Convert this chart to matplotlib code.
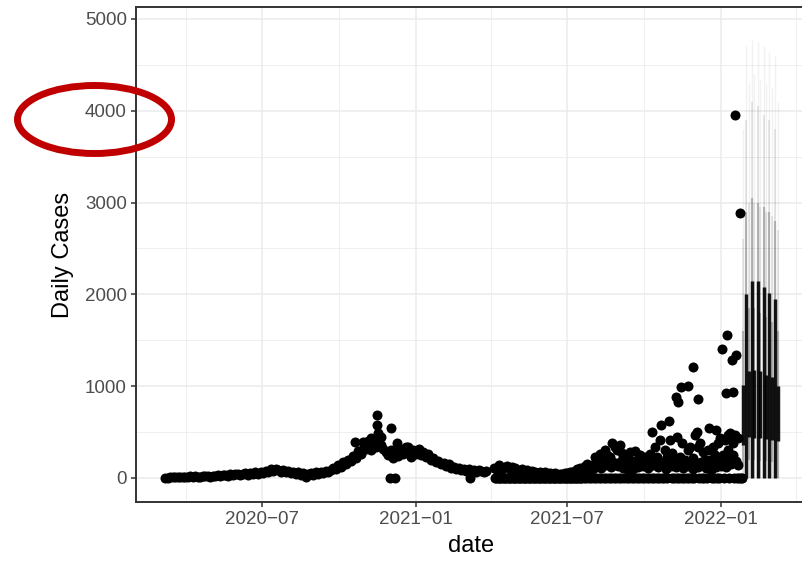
import numpy as np
import pandas as pd
import matplotlib
matplotlib.use("Agg")
import matplotlib.pyplot as plt
import matplotlib.dates as mdates
from matplotlib.patches import Ellipse

plt.rcParams['font.family'] = ['Liberation Sans', 'DejaVu Sans']

# daily cases, one value every third day from 2020-03-07
early_start = "2020-03-07"
early_vals = [0, 3, 5, 8, 10, 6, 12, 9,
              14, 10, 16, 12, 18, 13, 15, 20,
              17, 22, 15, 25, 20, 28, 18, 30,
              35, 25, 40, 30, 38, 45, 28, 42,
              50, 35, 55, 45, 60, 48, 65, 55,
              80, 70, 95, 75, 100, 85, 70, 90,
              65, 80, 55, 70, 45, 60, 35, 50,
              5, 40, 55, 35, 60, 45, 70, 55,
              80, 65, 90, 110, 95, 140, 120, 170,
              150, 200, 180, 240, 220, 290, 260, 390,
              320, 350, 300, 380, 340, 420, 360, 310,
              280, 250, 300, 220, 280, 240, 300, 260,
              340, 280, 230, 300, 260, 290, 250, 280,
              230, 260, 200, 220, 170, 190, 150, 160,
              130, 150, 110, 120, 100, 110, 85, 95,
              80, 100, 70, 85, 65, 90, 75, 60, 80]

# single days that stand out in 2020/21
extra_dates = ["2020-10-20", "2020-10-29", "2020-11-05", "2020-11-08", "2020-11-12",
               "2020-11-15", "2020-11-16", "2020-11-17", "2020-11-20", "2020-12-01",
               "2020-12-02", "2020-12-07", "2020-12-09", "2020-12-22", "2021-01-05",
               "2021-03-07"]
extra_vals = [390, 300, 400, 430, 370, 686, 577, 490, 450, 0,
              545, 0, 380, 340, 320, 0]

# reported days from April 2021 on, every third day
late_start = "2021-04-05"
late_end = "2022-01-26"
late_vals = [110, 90, 140, 100, 120, 130, 95, 115,
             105, 90, 80, 95, 70, 85, 60, 75,
             65, 55, 70, 50, 60, 45, 55, 40,
             50, 35, 45, 40, 55, 50, 70, 60,
             80, 95, 110, 90, 130, 150, 120, 140,
             230, 180, 260, 200, 300, 250, 230, 380,
             340, 300, 360, 270, 250, 220, 285, 180,
             295, 200, 250, 150, 230, 180, 260, 200,
             340, 230, 410, 160, 300, 230, 410, 270,
             160, 450, 230, 380, 200, 300, 340, 220,
             470, 340, 380, 285, 200, 300, 195, 340,
             250, 380, 440, 250, 410, 300, 490,
             380, 470, 440]

# second band of reports, every third day
late_low_start = "2021-07-20"
late_low_vals = [60, 90, 70, 120, 100, 150, 130, 110,
                 160, 140, 190, 120, 170, 150, 130, 180,
                 110, 150, 90, 130, 100, 140, 120, 170,
                 130, 180, 110, 160, 140, 190, 120, 175,
                 150, 100, 160, 130, 190, 120, 170, 140,
                 110, 160, 130, 180, 100, 150, 120, 170,
                 140, 110, 160, 90, 150, 120, 180, 130,
                 160, 120, 230, 150, 250, 190, 140]

# large reports late 2021 / early 2022
spike_dates = ["2021-10-11", "2021-10-21", "2021-10-31", "2021-11-08", "2021-11-11",
               "2021-11-14", "2021-11-22", "2021-11-29", "2021-12-03", "2021-12-05",
               "2021-12-18", "2021-12-26", "2022-01-02", "2022-01-07", "2022-01-08",
               "2022-01-10", "2022-01-14", "2022-01-15", "2022-01-18", "2022-01-19",
               "2022-01-24"]
spike_vals = [500, 580, 620, 880, 830, 990, 1005, 1210, 500, 865,
              545, 520, 1410, 925, 1555, 470, 1285, 940, 3955, 1340, 2890]

# forecast intervals (Mondays / Thursdays)
fc_dates = ["2022-01-27", "2022-01-31", "2022-02-03", "2022-02-07", "2022-02-10",
            "2022-02-14", "2022-02-17", "2022-02-21", "2022-02-24", "2022-02-28",
            "2022-03-03", "2022-03-07", "2022-03-10"]
fc_lo50 = [360, 0, 450, 0, 440, 0, 430, 0, 420, 0, 410, 0, 400]
fc_hi50 = [1010, 2000, 1170, 2150, 1180, 2140, 1160, 2080, 1120, 2010, 1100, 1950, 1000]
fc_lo80 = [150, 0, 200, 0, 200, 0, 190, 0, 180, 0, 170, 0, 0]
fc_hi80 = [1600, 2900, 1850, 3050, 1850, 3000, 1800, 2950, 1750, 2900, 1700, 2800, 1600]
fc_hi95 = [2600, 3900, 3000, 4100, 3000, 4050, 2950, 3950, 2900, 3900, 2850, 3800, 2700]
fc_hi99 = [3800, 4700, 4300, 4780, 4400, 4750, 4350, 4700, 4300, 4650, 4250, 4600, 4100]

# assemble observed points
early_d = pd.date_range(early_start, periods=len(early_vals), freq="3D")
late_d = pd.date_range(late_start, periods=len(late_vals), freq="3D")
low_d = pd.date_range(late_low_start, periods=len(late_low_vals), freq="3D")
spike_d = pd.to_datetime(spike_dates)
taken = set(late_d) | set(low_d) | set(spike_d)
zero_d = [d for d in pd.date_range(late_start, late_end, freq="D") if d not in taken]

dates = (list(early_d) + list(pd.to_datetime(extra_dates)) + list(late_d)
         + list(low_d) + list(spike_d) + zero_d)
vals = early_vals + extra_vals + late_vals + late_low_vals + spike_vals + [0] * len(zero_d)

fig = plt.figure(figsize=(8.02, 5.61), dpi=100)
ax = fig.add_axes([136 / 802, 1 - 502 / 561, (807 - 136) / 802, (502 - 7) / 561])

ax.scatter(dates, vals, s=52, color="black", linewidths=0, zorder=3)

fcd = pd.to_datetime(fc_dates)
ax.vlines(fcd, 0, fc_hi99, color="black", alpha=0.05, linewidth=1.0, zorder=4)
ax.vlines(fcd, 0, fc_hi95, color="black", alpha=0.10, linewidth=1.2, zorder=4)
ax.vlines(fcd, fc_lo80, fc_hi80, color="black", alpha=0.22, linewidth=1.6, zorder=4)
ax.vlines(fcd, fc_lo50, fc_hi50, color="black", alpha=0.9, linewidth=2.5, zorder=5)

ax.set_xlim(mdates.date2num(pd.Timestamp("2020-02-01")), mdates.date2num(pd.Timestamp("2022-04-14")))
ax.set_ylim(-262, 5130)

ax.xaxis.set_major_locator(mdates.MonthLocator(bymonth=[1, 7]))
ax.xaxis.set_minor_locator(mdates.MonthLocator(bymonth=[4, 10]))
ax.xaxis.set_major_formatter(plt.FuncFormatter(
    lambda v, p: mdates.num2date(v).strftime("%Y-%m").replace("-", "\u2212")))
ax.set_yticks([0, 1000, 2000, 3000, 4000, 5000])
ax.set_yticks([500, 1500, 2500, 3500, 4500], minor=True)

ax.grid(which="major", color="#EBEBEB", linewidth=1.1, zorder=0)
ax.grid(which="minor", color="#EBEBEB", linewidth=0.55, zorder=0)
ax.set_axisbelow(True)

for side in ["bottom", "top", "left", "right"]:
    ax.spines[side].set_color("#333333")
    ax.spines[side].set_linewidth(1.4)

ax.tick_params(which="major", length=3.5, width=1.1, color="#333333",
               labelsize=13.5, labelcolor="#4D4D4D", pad=3)
ax.tick_params(which="minor", length=0)

ax.set_xlabel("date", fontsize=17, labelpad=5)
ax.set_ylabel("Daily Cases", fontsize=17, labelpad=8)

# red highlight ring around the 4000 label
over = fig.add_axes([0, 0, 1, 1])
over.set_xlim(0, 802)
over.set_ylim(561, 0)
over.axis("off")
over.add_patch(Ellipse((94.5, 119.5), 154, 68, fill=False, edgecolor="#C00000", linewidth=5))

fig.savefig("out.png", dpi=100)
